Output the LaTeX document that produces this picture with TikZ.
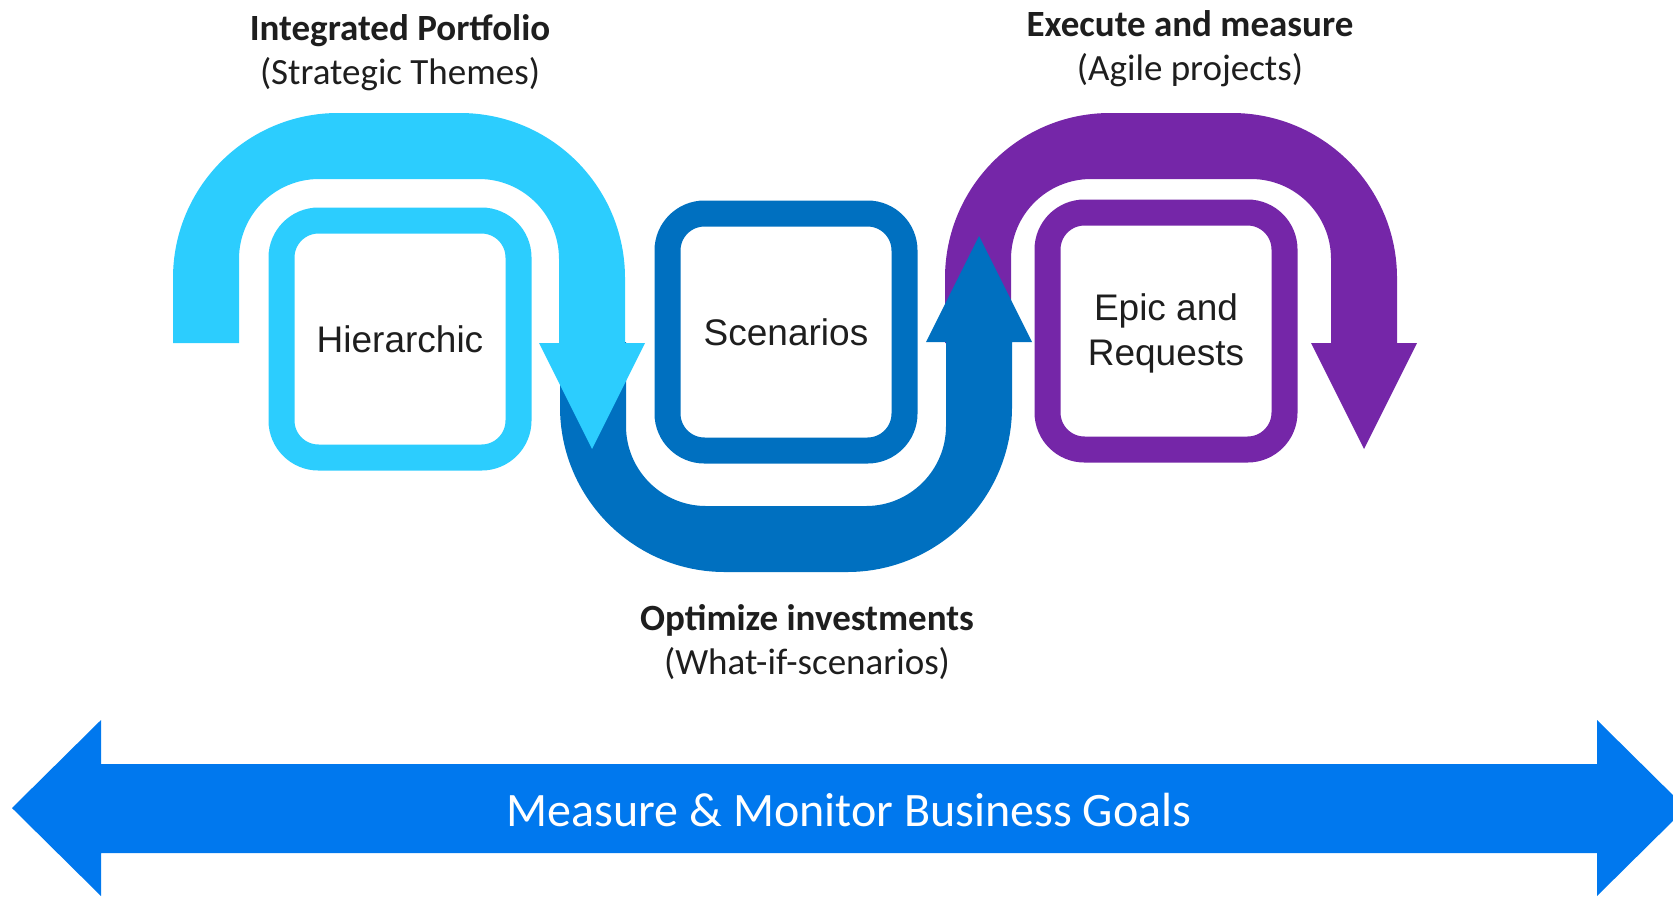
\documentclass[tikz,border=0pt]{standalone}
\usepackage{fontspec}
\setmainfont{Carlito}
\newfontfamily\boxfont{Liberation Sans}

\definecolor{cyanA}{RGB}{44,205,254}
\definecolor{blueB}{RGB}{0,112,192}
\definecolor{purpleC}{RGB}{117,38,168}
\definecolor{goalblue}{RGB}{0,120,238}
\definecolor{txt}{RGB}{30,30,30}

\tikzset{
  box/.style={draw=#1, line width=13pt, rounded corners=18.5pt, fill=white,
    minimum width=118.5pt, minimum height=118.5pt, inner sep=0pt, align=center,
    text=txt, font=\boxfont\fontsize{18.5}{22.5}\selectfont},
  title/.style={text=txt, align=center, font=\fontsize{18.5}{22}\selectfont},
  % one bent band with its arrow head, drawn from the outer top left corner
  pics/uturn/.style={code={
    \fill[#1] (0,230) -- (0,165) arc[start angle=180, end angle=270, radius=165]
      -- (287,0) arc[start angle=270, end angle=360, radius=165]
      -- (452,230) -- (472,230) -- (419,336) -- (366,230) -- (386,230)
      -- (386,146) arc[start angle=0, end angle=-90, radius=80]
      -- (146,66) arc[start angle=270, end angle=180, radius=80]
      -- (66,230) -- cycle;
  }}
}

\begin{document}
\begin{tikzpicture}[x=0.5pt, y=-0.5pt]
\clip (0,0) rectangle (1673,896);

\pic at (945,113) {uturn=purpleC};
\pic[yscale=-1] at (560,572) {uturn=blueB};
\pic at (173,113) {uturn=cyanA};

\node[box=cyanA] (hier) at (400,339) {Hierarchic};
\node[box=blueB] (scen) at (786,332) {Scenarios};
\node[box=purpleC, text depth=1pt] (epic) at (1166,331) {Epic and\\Requests};

\node[title] (portfolio) at (400,53) {\textbf{Integrated Portfolio}\\(Strategic Themes)};
\node[title] (execute) at (1190,49) {\textbf{Execute and measure}\\(Agile projects)};
\node[title] (optimize) at (807,642) {\textbf{Optimize investments}\\(What-if-scenarios)};

% goals arrow along the bottom
\fill[goalblue] (12,808) -- (101,720) -- (101,764) -- (1597,764) -- (1597,720)
  -- (1686,808) -- (1597,896) -- (1597,853) -- (101,853) -- (101,896) -- cycle;
\node[text=white, font=\fontsize{24}{28}\selectfont] (goals) at (849,810) {Measure \& Monitor Business Goals};
\end{tikzpicture}
\end{document}
